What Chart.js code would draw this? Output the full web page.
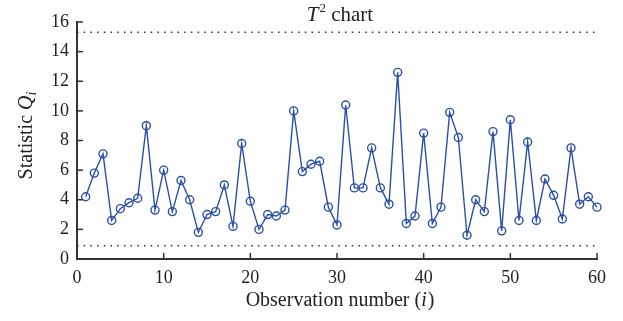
<!DOCTYPE html>
<html>
<head>
<meta charset="utf-8">
<script src="https://cdn.jsdelivr.net/npm/chart.js@4.4.0/dist/chart.umd.min.js"></script>
<style>
  html, body { margin: 0; padding: 0; background: #fff; }
  #wrap { width: 623px; height: 321px; position: relative; }
</style>
</head>
<body>
<div id="wrap"><canvas id="t2Chart"></canvas></div>
<script>
// observation numbers and T^2 statistic
var observations = [];
for (let i = 1; i <= 60; i++) observations.push(i);

var statisticQ = [
  4.2, 5.8, 7.1, 2.6, 3.4, 3.8, 4.1, 9.0, 3.3, 6.0,
  3.2, 5.3, 4.0, 1.8, 3.0, 3.2, 5.0, 2.2, 7.8, 3.9,
  2.0, 3.0, 2.9, 3.3, 10.0, 5.9, 6.4, 6.6, 3.5, 2.3,
  10.4, 4.8, 4.8, 7.5, 4.8, 3.7, 12.6, 2.4, 2.9, 8.5,
  2.4, 3.5, 9.9, 8.2, 1.6, 4.0, 3.2, 8.6, 1.9, 9.4,
  2.6, 7.9, 2.6, 5.4, 4.3, 2.7, 7.5, 3.7, 4.2, 3.5
];

var upperLimit = 15.3;
var lowerLimit = 0.9;

var yTicks = [0, 2, 4, 6, 8, 10, 12, 14, 16];
var xTicks = [0, 10, 20, 30, 40, 50, 60];

var serif = "'Liberation Serif', 'DejaVu Serif', serif";
var axisColor = "#333333";
var lineColor = "rgba(43, 79, 168, 1)";

// ticks pointing into the plot, and the mixed italic labels
var decorPlugin = {
  id: "decor",
  afterDraw: function(chart) {
    let ctx = chart.ctx;
    let xs = chart.scales.x, ys = chart.scales.y;
    let area = chart.chartArea;
    ctx.save();
    ctx.strokeStyle = axisColor;
    ctx.lineWidth = 1.5;
    yTicks.forEach(function(v) {
      let py = ys.getPixelForValue(v);
      ctx.beginPath();
      ctx.moveTo(area.left, py);
      ctx.lineTo(area.left + 6, py);
      ctx.stroke();
    });
    xTicks.forEach(function(v) {
      let px = xs.getPixelForValue(v);
      ctx.beginPath();
      ctx.moveTo(px, area.bottom);
      ctx.lineTo(px, area.bottom - 6);
      ctx.stroke();
    });

    ctx.fillStyle = "#222";
    ctx.textBaseline = "alphabetic";

    // title: T^2 chart
    let cx = (area.left + area.right) / 2 + 3;
    ctx.font = "italic 21px " + serif;
    let wT = ctx.measureText("T").width;
    ctx.font = "13px " + serif;
    let w2 = ctx.measureText("2").width;
    ctx.font = "21px " + serif;
    let wRest = ctx.measureText(" chart").width;
    let x0 = cx - (wT + w2 + 1 + wRest) / 2;
    ctx.textAlign = "left";
    ctx.font = "italic 21px " + serif;
    ctx.fillText("T", x0, 21);
    ctx.font = "13px " + serif;
    ctx.fillText("2", x0 + wT + 1, 12);
    ctx.font = "21px " + serif;
    ctx.fillText(" chart", x0 + wT + w2 + 1, 21);

    // x title: Observation number (i)
    ctx.font = "20px " + serif;
    let a = "Observation number (";
    let wa = ctx.measureText(a).width;
    ctx.font = "italic 20px " + serif;
    let wi = ctx.measureText("i").width;
    ctx.font = "20px " + serif;
    let wc = ctx.measureText(")").width;
    let xx = cx - (wa + wi + 1 + wc) / 2;
    ctx.fillText(a, xx, 306);
    ctx.font = "italic 20px " + serif;
    ctx.fillText("i", xx + wa, 306);
    ctx.font = "20px " + serif;
    ctx.fillText(")", xx + wa + wi + 1, 306);

    // y title: Statistic Q_i, rotated
    ctx.translate(32, (area.top + area.bottom) / 2 - 5);
    ctx.rotate(-Math.PI / 2);
    ctx.font = "20px " + serif;
    let s = "Statistic ";
    let ws = ctx.measureText(s).width;
    ctx.font = "italic 20px " + serif;
    let wq = ctx.measureText("Q").width;
    ctx.font = "italic 14px " + serif;
    let wsub = ctx.measureText("i").width;
    let yx = -(ws + wq + wsub) / 2;
    ctx.font = "20px " + serif;
    ctx.fillText(s, yx, 0);
    ctx.font = "italic 20px " + serif;
    ctx.fillText("Q", yx + ws, 0);
    ctx.font = "italic 14px " + serif;
    ctx.fillText("i", yx + ws + wq, 4);
    ctx.restore();
  }
};

function buildChart() {
  let ctx = document.getElementById("t2Chart").getContext("2d");

  let points = observations.map(function(x, i) {
    return { x: x, y: statisticQ[i] };
  });

  let chartData = {
    type: "line",
    data: {
      datasets: [{
        label: "T2",
        data: points,
        borderColor: lineColor,
        backgroundColor: "rgba(255, 255, 255, 0)",
        borderWidth: 1.4,
        pointRadius: 4,
        pointBorderWidth: 1.4,
        pointBorderColor: lineColor,
        pointBackgroundColor: "rgba(255, 255, 255, 0)",
        tension: 0,
        clip: false
      }, {
        label: "UCL",
        data: [{ x: 0, y: upperLimit }, { x: 60, y: upperLimit }],
        borderColor: "#333",
        borderWidth: 1.5,
        borderDash: [1.5, 5.2],
        pointRadius: 0
      }, {
        label: "LCL",
        data: [{ x: 0, y: lowerLimit }, { x: 60, y: lowerLimit }],
        borderColor: "#333",
        borderWidth: 1.5,
        borderDash: [1.5, 5.2],
        pointRadius: 0
      }]
    },
    options: {
      responsive: false,
      animation: false,
      layout: { padding: { top: 22, right: 26, left: 0, bottom: 0 } },
      plugins: {
        legend: { display: false },
        tooltip: { enabled: false },
        title: { display: false }
      },
      scales: {
        x: {
          type: "linear",
          min: 0,
          max: 60,
          afterBuildTicks: function(scale) {
            scale.ticks = xTicks.map(function(v) { return { value: v }; });
          },
          grid: { display: false, drawTicks: false },
          border: { display: true, color: axisColor, width: 2 },
          ticks: {
            padding: 8,
            color: "#222",
            font: { family: serif, size: 18 },
            maxRotation: 0
          },
          afterFit: function(scale) { scale.height = 62; }
        },
        y: {
          min: 0,
          max: 16,
          afterBuildTicks: function(scale) {
            scale.ticks = yTicks.map(function(v) { return { value: v }; });
          },
          grid: { display: false, drawTicks: false },
          border: { display: true, color: axisColor, width: 2 },
          ticks: {
            padding: 8,
            color: "#222",
            font: { family: serif, size: 18 }
          },
          afterFit: function(scale) { scale.width = 77; }
        }
      }
    },
    plugins: [decorPlugin]
  };

  new Chart(ctx, chartData);
}

let cv = document.getElementById("t2Chart");
cv.width = 623;
cv.height = 321;
buildChart();
</script>
</body>
</html>
